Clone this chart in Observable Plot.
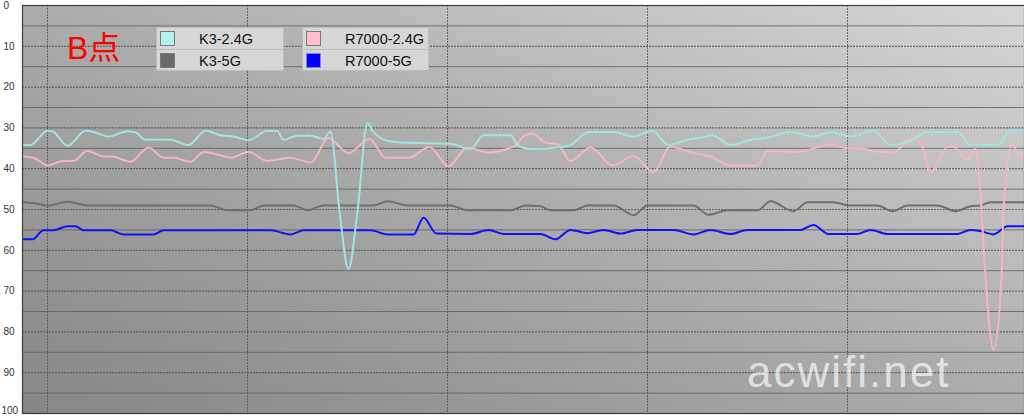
<!DOCTYPE html>
<html><head><meta charset="utf-8">
<script src="https://cdn.jsdelivr.net/npm/d3@7"></script>
<script src="https://cdn.jsdelivr.net/npm/@observablehq/plot@0.6"></script>
<style>
html,body{margin:0;padding:0;background:#fff;}
#wrap{position:relative;width:1024px;height:417px;overflow:hidden;font-family:"Liberation Sans",Arial,sans-serif;}
.lgbox{position:absolute;background:#d7d7d7;border:1px solid #bdbdbd;box-sizing:border-box;}
.sw{position:absolute;width:15px;height:15px;box-sizing:border-box;border:1px solid #7a7a7a;}
.lgt{position:absolute;font-size:14.5px;color:#111;line-height:16px;white-space:nowrap;}
#title{position:absolute;left:67px;top:32px;font-size:32px;line-height:32px;color:#ff0000;font-family:"Liberation Sans","Noto Sans CJK SC",sans-serif;}
#wm{position:absolute;left:747px;top:347px;font-size:44px;line-height:50px;letter-spacing:2px;color:rgba(255,255,255,0.68);font-family:"Liberation Sans",Arial,sans-serif;}
</style></head>
<body><div id="wrap"></div>
<script>
// ---- data ----
const seriesNames = ["K3-2.4G", "K3-5G", "R7000-2.4G", "R7000-5G"];
const lineColors = ["#a4e4e0", "#6e6e6e", "#f5b5c3", "#0c14f6"];
const swatchColors = ["#b4f2f2", "#6a6a6a", "#ffc0cb", "#0000ff"];
const titleText = "B点";
const watermarkText = "acwifi.net";
const yTicks = [0, 10, 20, 30, 40, 50, 60, 70, 80, 90, 100];
const xGrid = [0, 20, 40, 60, 80];

// [time, value]
const k3_24 = [[-2.4,34.2],[-1.7,34.2],[0,30.7],[0.5,30.8],[2.0,34.4],[3.8,30.7],[4.6,31.0],[6.1,32.1],[8.0,30.8],[8.8,31.1],[9.8,32.9],[12.3,32.9],[14.1,34.2],[15.8,30.7],[17.3,31.8],[18.6,32.1],[20.1,33.0],[22.0,30.7],[23.0,30.8],[23.6,32.9],[25.0,31.9],[26.3,31.9],[27.6,32.7],[28.3,30.9],[29.2,50.4],[30.1,64.6],[31.0,50.4],[32.0,28.8],[32.5,30.7],[33.8,33.0],[35.3,33.6],[40.3,33.9],[42.3,35.2],[43.6,31.8],[46.3,31.8],[47.1,34.4],[48.3,35.2],[51.0,34.8],[52.3,34.2],[54.1,31.0],[56.6,31.0],[58.6,32.1],[60.5,30.7],[62.1,34.2],[64.0,32.9],[65.3,32.4],[66.5,31.8],[68.3,34.2],[70.3,32.9],[72.0,32.4],[74.3,31.0],[76.6,32.1],[78.3,31.0],[80.3,32.1],[82.6,30.7],[84.3,34.2],[86.3,33.2],[88.0,31.0],[91.0,31.0],[92.3,34.2],[95.0,34.2],[96.3,30.7],[97.7,30.7]];
const k3_5 = [[-2.4,48.2],[-1.4,48.4],[0,49.1],[2.0,48.1],[4.0,49.0],[16.3,49.0],[18.0,50.2],[20.3,50.2],[21.6,49.0],[24.6,49.0],[26.0,50.2],[27.6,49.0],[32.6,49.0],[34.0,48.0],[36.0,49.0],[40.3,49.0],[42.0,50.2],[46.3,50.2],[47.8,49.0],[49.3,49.2],[50.3,50.2],[52.6,50.2],[54.0,49.0],[56.6,49.0],[58.6,51.4],[60.0,49.0],[64.6,49.0],[66.1,51.3],[68.0,50.2],[71.0,50.2],[72.3,48.0],[74.6,50.4],[76.0,48.2],[78.6,48.2],[80.1,49.0],[83.0,49.0],[84.5,50.4],[86.0,49.0],[89.0,49.0],[90.8,50.4],[92.3,49.2],[93.3,49.0],[94.3,48.2],[97.7,48.2]];
const r7000_24 = [[-2.4,37.0],[-1.4,37.3],[0,39.2],[1.6,38.1],[2.6,38.1],[4.0,35.6],[5.6,37.0],[6.5,37.0],[8.3,38.3],[10.1,34.8],[11.6,37.3],[12.6,37.3],[14.3,38.3],[15.6,35.9],[17.3,36.7],[18.3,37.3],[20.1,35.9],[22.0,38.1],[24.3,37.3],[26.3,38.5],[28.1,32.5],[30.1,36.2],[32.2,32.7],[33.8,37.3],[36.1,37.3],[38.2,34.7],[40.1,39.4],[42.0,34.8],[44.1,36.0],[46.0,35.1],[47.0,34.0],[47.5,32.3],[48.5,31.4],[49.8,33.6],[51.0,34.0],[52.3,38.1],[54.3,34.8],[56.5,39.2],[58.6,36.9],[60.6,40.8],[62.3,34.6],[64.3,36.0],[66.3,37.0],[68.3,39.2],[71.0,39.2],[72.0,35.6],[75.0,35.9],[78.3,34.0],[80.0,35.0],[81.3,35.0],[83.3,35.9],[84.6,35.9],[86.6,32.3],[87.5,34.7],[88.3,40.9],[90.0,34.7],[90.6,34.6],[92.0,37.9],[92.8,35.1],[93.3,46.3],[93.8,66.7],[94.6,84.3],[95.4,66.7],[95.6,50.4],[96.5,34.0],[97.1,36.6],[97.7,36.8]];
const r7000_5 = [[-2.4,57.3],[-1.5,57.3],[-0.4,55.1],[0.6,55.1],[2.0,54.1],[2.8,54.1],[3.6,55.1],[6.3,55.1],[7.6,56.1],[10.6,56.1],[11.6,55.1],[22.3,55.1],[24.3,56.1],[25.6,55.1],[32.3,55.1],[34.0,56.1],[36.6,56.1],[37.6,52.0],[38.9,55.9],[42.3,56.0],[44.1,55.0],[45.6,56.0],[49.3,56.0],[50.8,57.3],[52.3,55.0],[54.0,55.8],[55.6,55.0],[57.3,55.9],[59.0,55.0],[62.6,55.0],[64.6,56.1],[66.3,55.0],[68.3,56.0],[70.0,55.0],[75.3,55.0],[76.6,53.8],[78.1,56.0],[81.0,56.0],[82.3,55.0],[84.0,56.0],[91.0,56.0],[92.3,55.0],[93.3,55.3],[94.6,56.1],[96.0,54.1],[97.7,54.1]];
const seriesData = [k3_24, k3_5, r7000_24, r7000_5];

// ---- chart ----
const rows = seriesData.flatMap((arr, i) => arr.map(([t, v]) => ({t, v, s: seriesNames[i]})));
const lineMark = (i) => Plot.line(rows.filter(d => d.s === seriesNames[i]), {
  x: "t", y: "v", stroke: lineColors[i], strokeWidth: 2, curve: "monotone-x"
});

const chart = Plot.plot({
  width: 1024,
  height: 417,
  marginLeft: 22,
  marginRight: 0,
  marginTop: 5,
  marginBottom: 4,
  style: {background: "transparent", overflow: "visible"},
  x: {domain: [-2.5, 97.7], axis: null},
  y: {domain: [0, 100], reverse: true, axis: null},
  marks: [
    Plot.frame({fill: "url(#bggrad)", stroke: null}),
    Plot.ruleY(d3.range(5, 100, 10), {stroke: "#5e5e5e", strokeWidth: 1, strokeOpacity: 0.8}),
    Plot.ruleY(yTicks.slice(1, -1), {stroke: "#555", strokeWidth: 1.2, strokeDasharray: "2,1", strokeOpacity: 0.85}),
    Plot.ruleX(xGrid, {stroke: "#505050", strokeWidth: 1, strokeDasharray: "2,1", strokeOpacity: 0.8}),
    lineMark(3),
    lineMark(1),
    lineMark(2),
    lineMark(0),
    Plot.frame({stroke: "#3c3c3c", strokeWidth: 1.2}),
    Plot.text(yTicks.slice(0, -1), {y: d => d, text: d => String(d), frameAnchor: "left", dx: -19, textAnchor: "start", fontSize: 10, fill: "#333", fontFamily: "Liberation Sans, Arial, sans-serif"}),
    Plot.text(yTicks.slice(-1), {y: d => d, text: d => String(d), frameAnchor: "left", dx: -21, dy: -3, textAnchor: "start", fontSize: 10, fill: "#333", fontFamily: "Liberation Sans, Arial, sans-serif"})
  ]
});

const svg = d3.select(chart);
const grad = svg.insert("defs", ":first-child").append("linearGradient")
  .attr("id", "bggrad").attr("x1", 0).attr("y1", 1).attr("x2", 1).attr("y2", 0);
grad.append("stop").attr("offset", 0).attr("stop-color", "#868686");
grad.append("stop").attr("offset", 0.5).attr("stop-color", "#ababab");
grad.append("stop").attr("offset", 1).attr("stop-color", "#d6d6d6");

const wrap = document.getElementById("wrap");
wrap.appendChild(chart);

// ---- legend (two columns of two) ----
const legendCols = [156, 302];
const legendRows = [27, 49];
seriesNames.forEach((name, i) => {
  const col = i < 2 ? 0 : 1;
  const row = name.endsWith("2.4G") ? 0 : 1;
  const box = document.createElement("div");
  box.className = "lgbox";
  box.style.left = legendCols[col] + "px";
  box.style.top = legendRows[row] + "px";
  box.style.width = (col === 0 ? 128 : 127) + "px";
  box.style.height = (row === 0 ? 23 : 22) + "px";
  const sw = document.createElement("div");
  sw.className = "sw";
  sw.style.left = "3px";
  sw.style.top = "3px";
  sw.style.background = swatchColors[i];
  if (i === 3) sw.style.borderColor = "#8080ff";
  box.appendChild(sw);
  const t = document.createElement("div");
  t.className = "lgt";
  t.style.left = "42px";
  t.style.top = "3px";
  t.textContent = name;
  box.appendChild(t);
  wrap.appendChild(box);
});

const title = document.createElement("div");
title.id = "title";
title.textContent = titleText;
wrap.appendChild(title);

const wm = document.createElement("div");
wm.id = "wm";
wm.textContent = watermarkText;
wrap.appendChild(wm);
</script>
</body></html>
